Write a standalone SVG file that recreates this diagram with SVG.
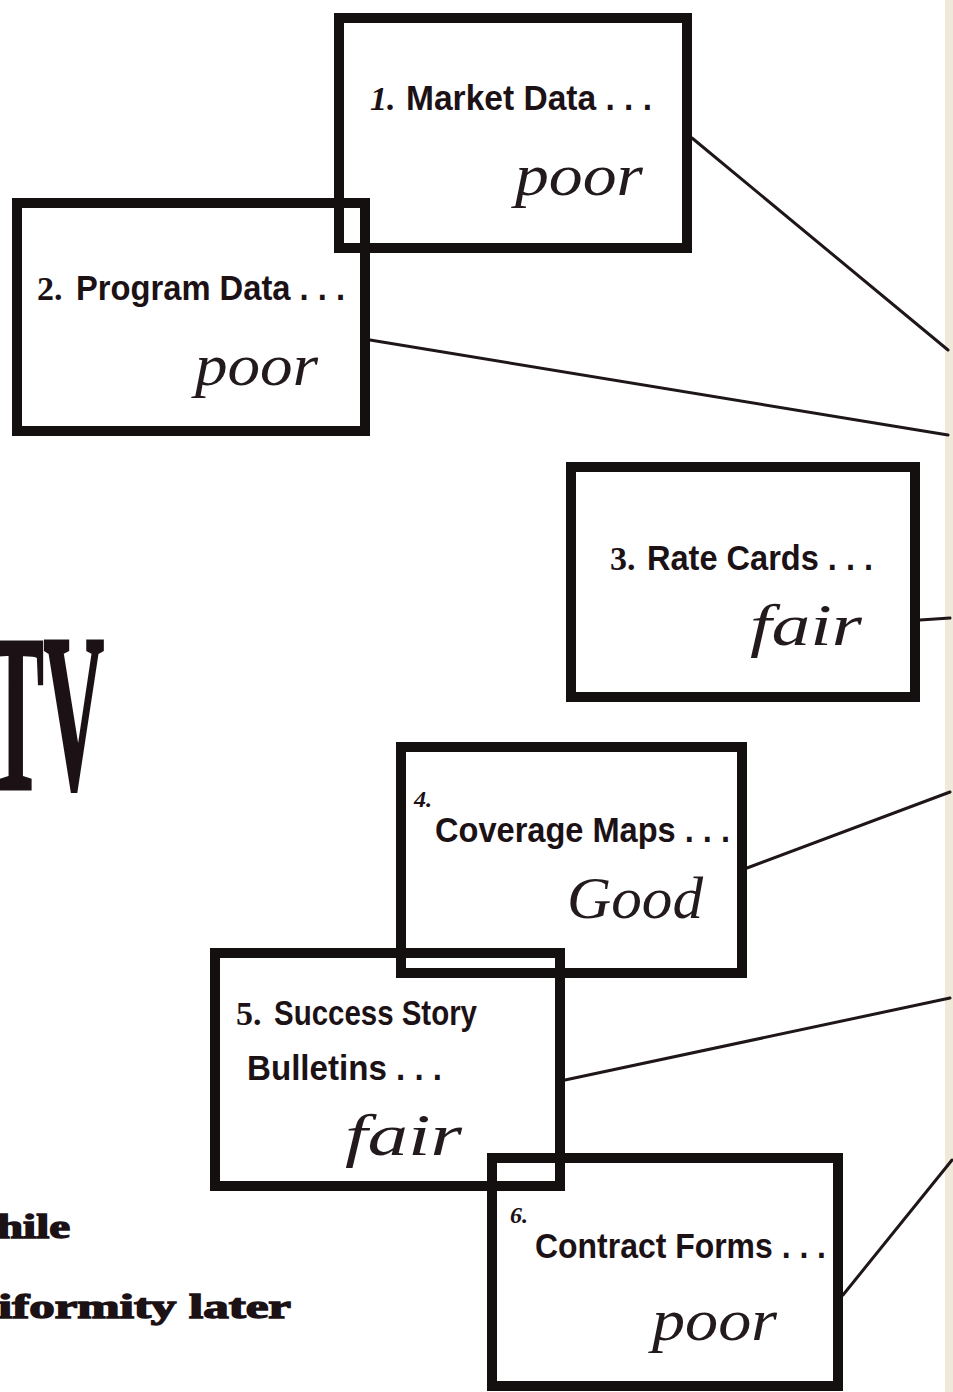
<svg xmlns="http://www.w3.org/2000/svg" width="953" height="1392" viewBox="0 0 953 1392">
<style>
.box{fill:none;stroke:#141010;stroke-width:10}
.lbl{font-family:"Liberation Sans",Arial,sans-serif;font-weight:bold;font-size:35px;fill:#1c1216}
.num{font-family:"Liberation Serif","Times New Roman",serif;font-weight:bold;font-size:34px;fill:#1c1216}
.numi{font-family:"Liberation Serif","Times New Roman",serif;font-weight:bold;font-style:italic;font-size:34px;fill:#1c1216}
.sm{font-size:24px}
.hand{font-family:"Liberation Serif","Times New Roman",serif;font-style:italic;font-size:60px;fill:#221a1c}
.conn{stroke:#1e1618;stroke-width:3;stroke-linecap:round;fill:none}
.big{font-family:"Liberation Serif","Times New Roman",serif;font-weight:bold;fill:#1c1216;stroke:#1c1216}
</style>
<rect x="0" y="0" width="953" height="1392" fill="#ffffff"/>
<rect x="945" y="0" width="8" height="1392" fill="#efe9da"/>

<g id="connectors">
<line class="conn" x1="692" y1="138" x2="948" y2="350"/>
<line class="conn" x1="370" y1="340" x2="948" y2="435"/>
<line class="conn" x1="920" y1="620" x2="950" y2="618"/>
<line class="conn" x1="747" y1="868" x2="950" y2="792"/>
<line class="conn" x1="565" y1="1080" x2="950" y2="998"/>
<line class="conn" x1="843" y1="1295" x2="952" y2="1160"/>
</g>

<g id="title-tv">
<text class="big" x="-12" y="788" font-size="222" stroke-width="4" textLength="116" lengthAdjust="spacingAndGlyphs">TV</text>
</g>

<g id="caption">
<text class="big" x="-3" y="1238" font-size="33" stroke-width="1.4" textLength="73" lengthAdjust="spacingAndGlyphs">hile</text>
<text class="big" x="-2" y="1318" font-size="33" stroke-width="1.4" textLength="293" lengthAdjust="spacingAndGlyphs">iformity later</text>
</g>

<g id="node1">
<rect class="box" x="339" y="18" width="348" height="230"/>
<text class="numi" x="370" y="110">1.</text>
<text class="lbl" x="406" y="110" textLength="246" lengthAdjust="spacingAndGlyphs">Market Data . . .</text>
<text class="hand" x="515" y="195" textLength="128" lengthAdjust="spacingAndGlyphs">poor</text>
</g>

<g id="node2">
<rect class="box" x="17" y="203" width="348" height="228"/>
<text class="num" x="37" y="300">2.</text>
<text class="lbl" x="76" y="300" textLength="269" lengthAdjust="spacingAndGlyphs">Program Data . . .</text>
<text class="hand" x="195" y="385" textLength="123" lengthAdjust="spacingAndGlyphs">poor</text>
</g>

<g id="node3">
<rect class="box" x="571" y="467" width="344" height="230"/>
<text class="num" x="610" y="570">3.</text>
<text class="lbl" x="647" y="570" textLength="226" lengthAdjust="spacingAndGlyphs">Rate Cards . . .</text>
<text class="hand" x="750" y="645" textLength="112" lengthAdjust="spacingAndGlyphs">fair</text>
</g>

<g id="node4">
<rect class="box" x="401" y="747" width="341" height="226"/>
<text class="numi sm" x="414" y="807">4.</text>
<text class="lbl" x="435" y="842" textLength="295" lengthAdjust="spacingAndGlyphs">Coverage Maps . . .</text>
<text class="hand" x="567" y="918" textLength="136" lengthAdjust="spacingAndGlyphs">Good</text>
</g>

<g id="node5">
<rect class="box" x="215" y="953" width="345" height="233"/>
<text class="num" x="236" y="1025">5.</text>
<text class="lbl" x="274" y="1025" textLength="203" lengthAdjust="spacingAndGlyphs">Success Story</text>
<text class="lbl" x="247" y="1080" textLength="195" lengthAdjust="spacingAndGlyphs">Bulletins . . .</text>
<text class="hand" x="345" y="1155" textLength="117" lengthAdjust="spacingAndGlyphs">fair</text>
</g>

<g id="node6">
<rect class="box" x="492" y="1158" width="346" height="228"/>
<text class="numi sm" x="510" y="1223">6.</text>
<text class="lbl" x="535" y="1258" textLength="291" lengthAdjust="spacingAndGlyphs">Contract Forms . . .</text>
<text class="hand" x="652" y="1340" textLength="125" lengthAdjust="spacingAndGlyphs">poor</text>
</g>
</svg>
